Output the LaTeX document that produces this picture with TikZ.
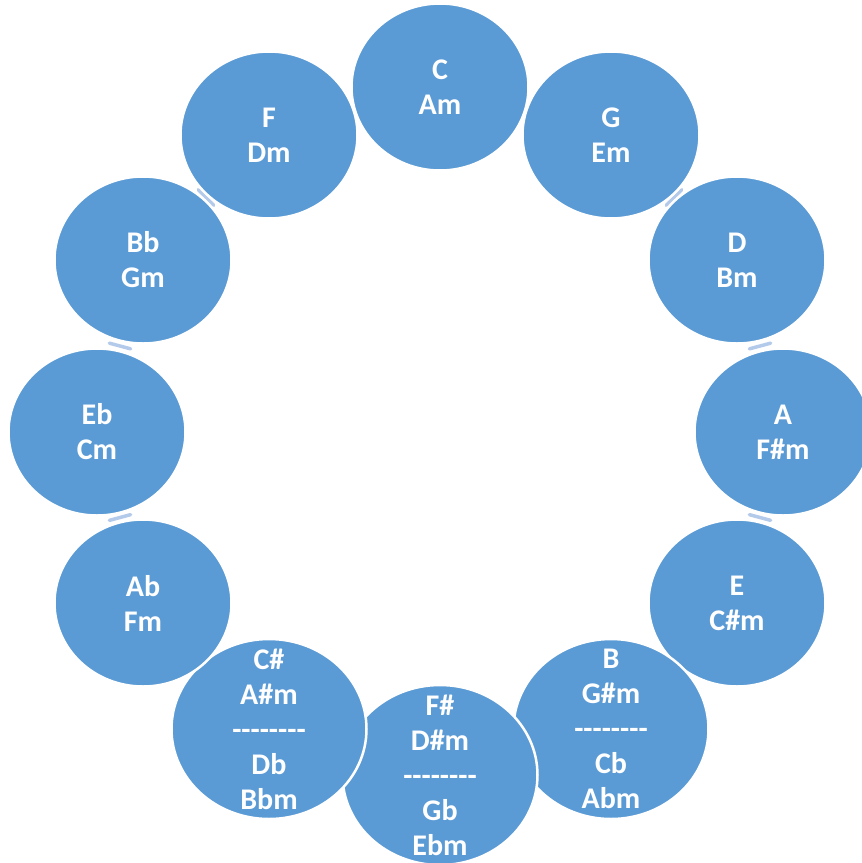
\documentclass[tikz,border=0pt]{standalone}
\usepackage{fontspec}
\setmainfont{Carlito}
\usetikzlibrary{shapes.geometric,calc}
\definecolor{keyfill}{HTML}{5B9BD5}
\definecolor{linkblue}{HTML}{B4CAEA}
\pgfdeclarelayer{bg}
\pgfsetlayers{bg,main}
% short link mark between two neighbouring keys, across the gap
\newcommand\keylink[2]{%
  \coordinate (m#1#2) at ($(#1)!0.5!(#2)$);
  \draw[link] ($(m#1#2)!11pt!90:(#2)$) -- ($(m#1#2)!11pt!-90:(#2)$);}
% row of eight hyphens, kept apart so they do not join into dashes
\newcommand\dashrow{-{}-{}-{}-{}-{}-{}-{}-}
\begin{document}
\begin{tikzpicture}[x=1pt,y=-1pt,
  keyshape/.style={ellipse,fill=keyfill,draw=white,line width=2.5pt,
    inner sep=0pt,minimum width=177pt,minimum height=167pt},
  widekey/.style={keyshape,minimum width=195pt,minimum height=180pt},
  keytext/.style={text=white,font=\fontsize{30}{35}\selectfont\bfseries,
    align=center,inner sep=0pt},
  link/.style={linkblue,line width=3.5pt,line cap=round}]
\useasboundingbox (0,0) rectangle (862,863);

% circle of fifths, clockwise from the top
\node[keyshape] (nC)  at (440,87)  {};
\node[keytext]  (tC)  at (nC)  {C\\Am};
\node[keyshape] (nG)  at (611,135) {};
\node[keytext]  (tG)  at (nG)  {G\\Em};
\node[keyshape] (nD)  at (737,260) {};
\node[keytext]  (tD)  at (nD)  {D\\Bm};
\node[keyshape] (nA)  at (783,432) {};
\node[keytext]  (tA)  at (nA)  {A\\F\#m};
\node[keyshape] (nE)  at (737,603) {};
\node[keytext]  (tE)  at (nE)  {E\\C\#m};
\node[widekey]  (nB)  at (611,729) {};
\node[keytext]  (tB)  at (nB)  {B\\G\#m\\\dashrow\\Cb\\Abm};
\node[widekey]  (nFs) at (440,775) {};
\node[keytext]  (tFs) at (nFs) {F\#\\D\#m\\\dashrow\\Gb\\Ebm};
\node[widekey]  (nCs) at (269,729) {};
\node[keytext]  (tCs) at (nCs) {C\#\\A\#m\\\dashrow\\Db\\Bbm};
\node[keyshape] (nAb) at (143,603) {};
\node[keytext]  (tAb) at (nAb) {Ab\\Fm};
\node[keyshape] (nEb) at (97,432)  {};
\node[keytext]  (tEb) at (nEb) {Eb\\Cm};
\node[keyshape] (nBb) at (143,260) {};
\node[keytext]  (tBb) at (nBb) {Bb\\Gm};
\node[keyshape] (nF)  at (269,135) {};
\node[keytext]  (tF)  at (nF)  {F\\Dm};

% link marks in the visible gaps, behind the keys
\begin{pgfonlayer}{bg}
  \keylink{nG}{nD}
  \keylink{nD}{nA}
  \keylink{nA}{nE}
  \keylink{nAb}{nEb}
  \keylink{nEb}{nBb}
  \keylink{nBb}{nF}
\end{pgfonlayer}
\end{tikzpicture}
\end{document}
